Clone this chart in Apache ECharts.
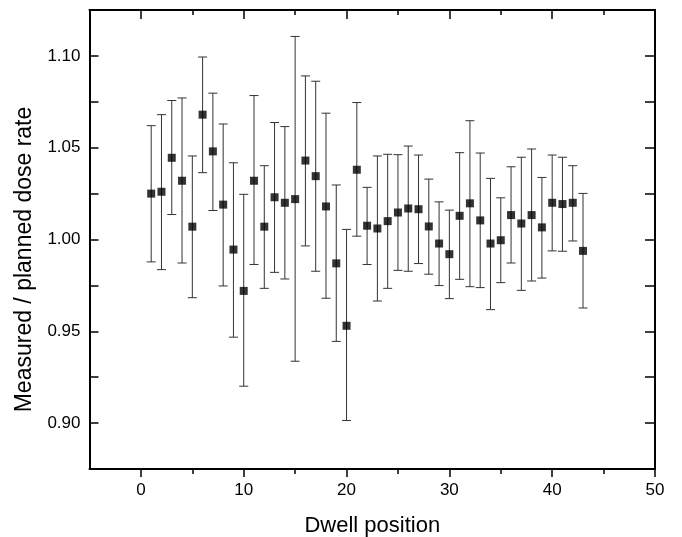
<!DOCTYPE html>
<html>
<head>
<meta charset="utf-8">
<script src="https://cdn.jsdelivr.net/npm/echarts@6/dist/echarts.min.js"></script>
<style>
  html, body { margin: 0; padding: 0; background: #fff; }
  #chart { width: 682px; height: 537px; }
</style>
</head>
<body>
<div id="chart"></div>
<script>
// dwell positions 1..43
const positions = [1, 2, 3, 4, 5, 6, 7, 8, 9, 10, 11, 12, 13, 14, 15, 16, 17, 18, 19, 20, 21, 22,
  23, 24, 25, 26, 27, 28, 29, 30, 31, 32, 33, 34, 35, 36, 37, 38, 39, 40, 41, 42, 43]
// measured / planned ratio
const ratio = [1.025, 1.026, 1.0445, 1.032, 1.007, 1.068, 1.048, 1.019, 0.9945, 0.972, 1.032,
  1.007, 1.023, 1.020, 1.022, 1.043, 1.0345, 1.018, 0.987, 0.953, 1.038, 1.0075, 1.006,
  1.010, 1.0147, 1.0169, 1.0165, 1.0071, 0.9978, 0.992, 1.0129, 1.0197, 1.0104, 0.9978,
  0.9996, 1.0133, 1.0087, 1.0133, 1.0066, 1.020, 1.0193, 1.020, 0.9938]
// error bar ends
const upper = [1.062, 1.068, 1.0757, 1.0771, 1.0455, 1.0994, 1.0797, 1.0629, 1.0418, 1.0246,
  1.0784, 1.0402, 1.0637, 1.0615, 1.1106, 1.0891, 1.0862, 1.0688, 1.0297, 1.0055, 1.0746,
  1.0284, 1.0455, 1.0464, 1.0462, 1.0509, 1.046, 1.0329, 1.0205, 1.016, 1.0473, 1.0647,
  1.0471, 1.0333, 1.0227, 1.0396, 1.0448, 1.0493, 1.0338, 1.046, 1.0448, 1.0402, 1.0251]
const lower = [0.9878, 0.9836, 1.0136, 0.9872, 0.9683, 1.0364, 1.0158, 0.9747, 0.9468, 0.9201,
  0.9864, 0.9734, 0.9821, 0.9785, 0.9337, 0.9965, 0.9827, 0.968, 0.9445, 0.9014, 1.0018,
  0.9864, 0.9665, 0.9734, 0.9832, 0.9827, 0.9869, 0.9811, 0.9749, 0.9678, 0.9783, 0.9743,
  0.9738, 0.9618, 0.9765, 0.9872, 0.9723, 0.9774, 0.979, 0.9938, 0.9936, 0.9992, 0.9627]

const xMajor = [0, 10, 20, 30, 40, 50]
const xMinor = [5, 15, 25, 35, 45]
const yLabels = [0.90, 0.95, 1.00, 1.05, 1.10]

const font = 'Liberation Sans, Arial, sans-serif'
const lineStyle = { color: '#000', width: 2 }
const tickStyle = { color: '#000', width: 1.5 }

const points = positions.map((p, i) => [p, ratio[i]])
const bars = positions.map((p, i) => [p, lower[i], upper[i]])

function xAxisBase (extra) {
  return Object.assign({
    type: 'value',
    min: -5,
    max: 50,
    splitLine: { show: false },
    axisLine: { show: false },
    axisLabel: { show: false },
    axisTick: { show: false }
  }, extra)
}

const chart = echarts.init(document.getElementById('chart'))
chart.setOption({
  animation: false,
  backgroundColor: '#fff',
  grid: { left: 89.5, right: 27, top: 10, bottom: 68, outerBoundsMode: 'none', containLabel: false },
  xAxis: [
    xAxisBase({
      position: 'bottom',
      name: 'Dwell position',
      nameLocation: 'middle',
      nameGap: 46,
      nameTextStyle: { fontSize: 22, color: '#000', fontFamily: font },
      axisLine: { show: true, onZero: false, lineStyle: lineStyle },
      axisTick: { show: true, inside: false, length: 8, customValues: xMajor, lineStyle: tickStyle },
      axisLabel: { show: true, customValues: xMajor, fontSize: 17, color: '#000', fontFamily: font, margin: 13 }
    }),
    xAxisBase({
      position: 'bottom',
      axisTick: { show: true, inside: false, length: 5, customValues: xMinor, lineStyle: tickStyle }
    }),
    xAxisBase({
      position: 'top',
      axisLine: { show: true, onZero: false, lineStyle: lineStyle },
      axisTick: { show: true, inside: true, length: 9, customValues: xMajor, lineStyle: tickStyle }
    }),
    xAxisBase({
      position: 'top',
      axisTick: { show: true, inside: true, length: 5, customValues: xMinor, lineStyle: tickStyle }
    })
  ],
  yAxis: [
    {
      type: 'value',
      position: 'left',
      min: 0.875,
      max: 1.125,
      interval: 0.025,
      name: 'Measured / planned dose rate',
      nameLocation: 'middle',
      nameGap: 53,
      nameTextStyle: { fontSize: 23, color: '#000', fontFamily: font, padding: [0, 40, 0, 0] },
      splitLine: { show: false },
      axisLine: { show: true, onZero: false, lineStyle: lineStyle },
      axisTick: { show: true, inside: true, length: 9, lineStyle: tickStyle },
      axisLabel: {
        customValues: yLabels,
        formatter: v => v.toFixed(2),
        fontSize: 17,
        color: '#000',
        fontFamily: font,
        margin: 9
      }
    },
    {
      type: 'value',
      position: 'right',
      min: 0.875,
      max: 1.125,
      interval: 0.025,
      splitLine: { show: false },
      axisLine: { show: true, onZero: false, lineStyle: lineStyle },
      axisTick: { show: true, inside: true, length: 10, lineStyle: tickStyle },
      axisLabel: { show: false }
    }
  ],
  series: [
    {
      name: 'error',
      type: 'custom',
      xAxisIndex: 0,
      yAxisIndex: 0,
      silent: true,
      renderItem: (params, api) => {
        const x = api.value(0)
        const lo = api.coord([x, api.value(1)])
        const hi = api.coord([x, api.value(2)])
        const half = 4.5
        const style = { stroke: '#333', lineWidth: 1 }
        return {
          type: 'group',
          children: [
            { type: 'line', shape: { x1: hi[0], y1: hi[1], x2: lo[0], y2: lo[1] }, style: style },
            { type: 'line', shape: { x1: hi[0] - half, y1: hi[1], x2: hi[0] + half, y2: hi[1] }, style: style },
            { type: 'line', shape: { x1: lo[0] - half, y1: lo[1], x2: lo[0] + half, y2: lo[1] }, style: style }
          ]
        }
      },
      encode: { x: 0, y: [1, 2] },
      data: bars,
      z: 2
    },
    {
      name: 'ratio',
      type: 'scatter',
      xAxisIndex: 0,
      yAxisIndex: 0,
      symbol: 'rect',
      symbolSize: 8,
      itemStyle: { color: '#000' },
      data: points,
      z: 3
    }
  ]
})
</script>
</body>
</html>
